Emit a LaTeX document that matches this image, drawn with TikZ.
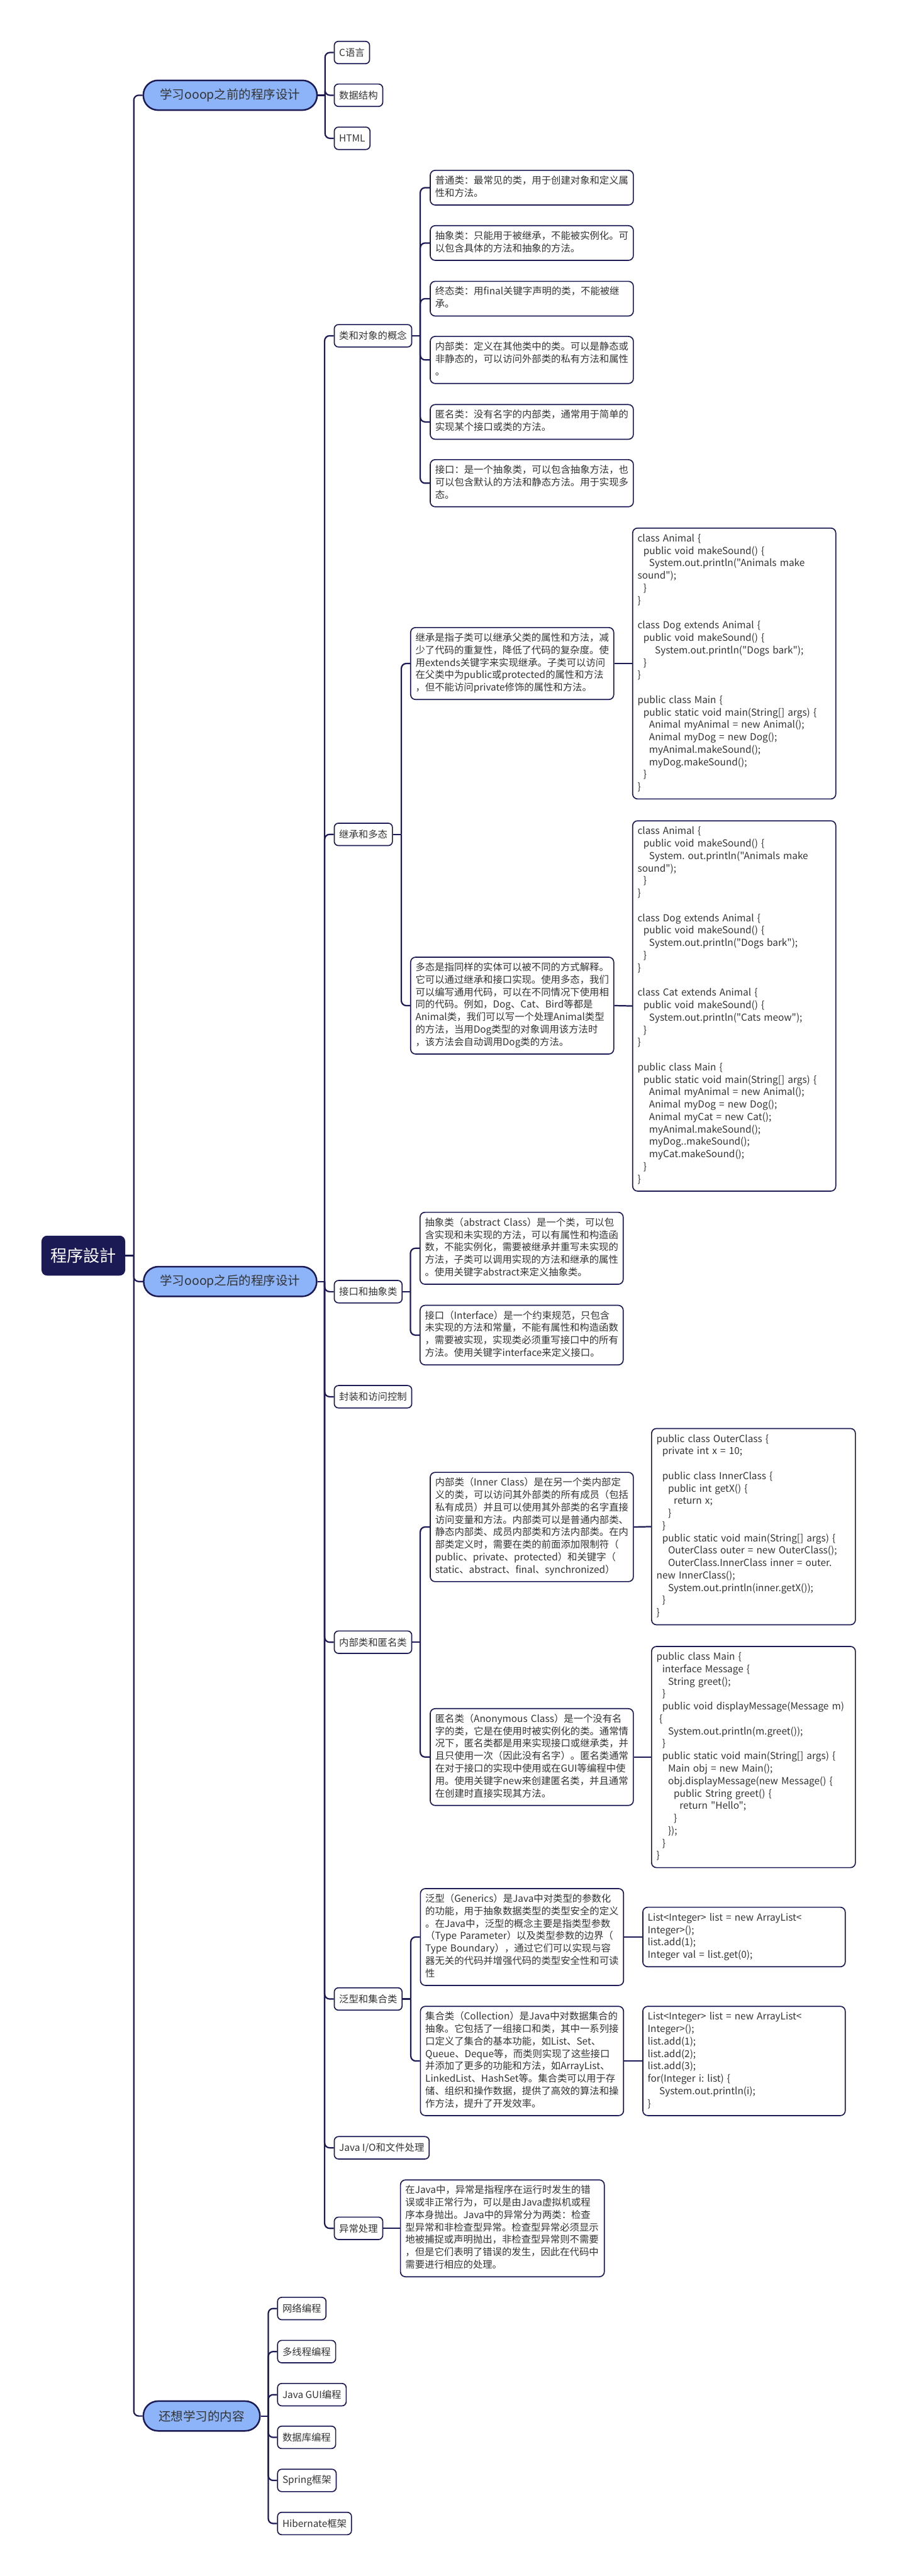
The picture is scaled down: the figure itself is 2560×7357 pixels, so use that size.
\documentclass[tikz,border=0pt]{standalone}
\usepackage{fontspec}
\setmainfont{Noto Sans CJK SC}[Ligatures=TeXOff]
\hyphenpenalty=10000
\exhyphenpenalty=10000
\definecolor{navy}{HTML}{1B1A55}
\definecolor{pillblue}{HTML}{8DB4F8}
\definecolor{txt}{HTML}{333333}
\newcommand\fsz{\fontsize{27.6}{35.5}\selectfont}
\newcommand\cind[1]{\hspace*{#1\dimexpr16.5pt\relax}}
\tikzset{
  conn/.style={draw=navy, line width=4pt, rounded corners=14pt},
  rootbox/.style={fill=navy, text=white, rounded corners=16pt, minimum width=239pt, minimum height=114pt, font=\fontsize{47}{56}\selectfont},
  pillbox/.style={fill=pillblue, draw=navy, line width=4.5pt, rounded corners=42pt, minimum height=85pt, text=txt, font=\fontsize{35}{42}\selectfont, anchor=west},
  leafbox/.style={draw=navy, line width=3pt, fill=white, rounded corners=12pt, minimum height=64pt, inner xsep=14pt, text=txt, font=\fsz, anchor=west},
  tbox/.style={draw=navy, line width=3pt, fill=white, rounded corners=14pt, align=left, text width=#1, inner xsep=14pt, inner ysep=14pt, text=txt, font=\fsz, anchor=west, execute at begin node=\strut, execute at end node=\strut},
  tbox/.default=552pt
}
\begin{document}
\begin{tikzpicture}[x=1pt,y=-1pt]
\useasboundingbox (0,0) rectangle (2560,7357);
\fill[white] (0,0) rectangle (2560,7357);

% root and main branches
\node[rootbox] (root) at (238,3586) {程序設計};
\node[pillbox, minimum width=496pt] (b1) at (407,272) {学习ooop之前的程序设计};
\node[pillbox, minimum width=494pt] (b2) at (408,3660) {学习ooop之后的程序设计};
\node[pillbox, minimum width=333pt] (b3) at (407,6900) {还想学习的内容};

\coordinate (T) at (382,3586);
\draw[conn] (root.east) -- (T);
\foreach \b in {b1,b2,b3} \draw[conn] (T) |- (\b.west);

% branch 1 leaves
\node[leafbox] (a1) at (953,150) {C语言};
\node[leafbox] (a2) at (953,272) {数据结构};
\node[leafbox] (a3) at (953,395) {HTML};
\coordinate (s1) at (928,272);
\draw[conn] (b1.east) -- (s1);
\foreach \c in {a1,a2,a3} \draw[conn] (s1) |- (\c.west);

% branch 2 children
\node[leafbox] (k1) at (953,959) {类和对象的概念};
\node[leafbox] (k2) at (953,2383) {继承和多态};
\node[leafbox] (k3) at (953,3689) {接口和抽象类};
\node[leafbox] (k4) at (953,3989) {封装和访问控制};
\node[leafbox] (k5) at (953,4690) {内部类和匿名类};
\node[leafbox] (k6) at (953,5709) {泛型和集合类};
\node[leafbox] (k7) at (953,6134) {Java I/O和文件处理};
\node[leafbox] (k8) at (953,6364) {异常处理};
\coordinate (s2) at (927,3660);
\draw[conn] (b2.east) -- (s2);
\foreach \c in {k1,k2,k3,k4,k5,k6,k7,k8} \draw[conn] (s2) |- (\c.west);

% class and object concepts
\node[tbox] (n11) at (1227,536) {普通类：最常见的类，用于创建对象和定义属\\性和方法。};
\node[tbox] (n12) at (1227,694) {抽象类：只能用于被继承，不能被实例化。可\\以包含具体的方法和抽象的方法。};
\node[tbox] (n13) at (1227,853) {终态类：用final关键字声明的类，不能被继\\承。};
\node[tbox] (n14) at (1227,1028) {内部类：定义在其他类中的类。可以是静态或\\非静态的，可以访问外部类的私有方法和属性\\。};
\node[tbox] (n15) at (1227,1205) {匿名类：没有名字的内部类，通常用于简单的\\实现某个接口或类的方法。};
\node[tbox] (n16) at (1227,1380) {接口：是一个抽象类，可以包含抽象方法，也\\可以包含默认的方法和静态方法。用于实现多\\态。};
\coordinate (s3) at (1200,959);
\draw[conn] (k1.east) -- (s3);
\foreach \c in {n11,n12,n13,n14,n15,n16} \draw[conn] (s3) |- (\c.west);

% inheritance and polymorphism
\node[tbox] (n21) at (1171,1895) {继承是指子类可以继承父类的属性和方法，减\\少了代码的重复性，降低了代码的复杂度。使\\用extends关键字来实现继承。子类可以访问\\在父类中为public或protected的属性和方法\\，但不能访问private修饰的属性和方法。};
\node[tbox] (n22) at (1171,2872) {多态是指同样的实体可以被不同的方式解释。\\它可以通过继承和接口实现。使用多态，我们\\可以编写通用代码，可以在不同情况下使用相\\同的代码。例如，Dog、Cat、Bird等都是\\Animal类，我们可以写一个处理Animal类型\\的方法，当用Dog类型的对象调用该方法时\\，该方法会自动调用Dog类的方法。};
\coordinate (s4) at (1146,2383);
\draw[conn] (k2.east) -- (s4);
\foreach \c in {n21,n22} \draw[conn] (s4) |- (\c.west);

\node[tbox] (c21) at (1805,1895) {class~Animal~\{\\
\cind{1}public~void~makeSound()~\{\\
\cind{2}System.out.println("Animals~make\\
sound");\\
\cind{1}\}\\
\}\\
\mbox{}\\
class~Dog~extends~Animal~\{\\
\cind{1}public~void~makeSound()~\{\\
\cind{3}System.out.println("Dogs~bark");\\
\cind{1}\}\\
\}\\
\mbox{}\\
public~class~Main~\{\\
\cind{1}public~static~void~main(String[]~args)~\{\\
\cind{2}Animal~myAnimal~=~new~Animal();\\
\cind{2}Animal~myDog~=~new~Dog();\\
\cind{2}myAnimal.makeSound();\\
\cind{2}myDog.makeSound();\\
\cind{1}\}\\
\}};
\node[tbox] (c22) at (1805,2873) {class~Animal~\{\\
\cind{1}public~void~makeSound()~\{\\
\cind{2}System.~out.println("Animals~make\\
sound");\\
\cind{1}\}\\
\}\\
\mbox{}\\
class~Dog~extends~Animal~\{\\
\cind{1}public~void~makeSound()~\{\\
\cind{2}System.out.println("Dogs~bark");\\
\cind{1}\}\\
\}\\
\mbox{}\\
class~Cat~extends~Animal~\{\\
\cind{1}public~void~makeSound()~\{\\
\cind{2}System.out.println("Cats~meow");\\
\cind{1}\}\\
\}\\
\mbox{}\\
public~class~Main~\{\\
\cind{1}public~static~void~main(String[]~args)~\{\\
\cind{2}Animal~myAnimal~=~new~Animal();\\
\cind{2}Animal~myDog~=~new~Dog();\\
\cind{2}Animal~myCat~=~new~Cat();\\
\cind{2}myAnimal.makeSound();\\
\cind{2}myDog..makeSound();\\
\cind{2}myCat.makeSound();\\
\cind{1}\}\\
\}};
\draw[conn] (n21.east) -- (c21.west);
\draw[conn] (n22.east) -- (c22.west);

% interfaces and abstract classes
\node[tbox] (n31) at (1198,3565) {抽象类（abstract~Class）是一个类，可以包\\含实现和未实现的方法，可以有属性和构造函\\数，不能实例化，需要被继承并重写未实现的\\方法，子类可以调用实现的方法和继承的属性\\。使用关键字abstract来定义抽象类。};
\node[tbox] (n32) at (1198,3813) {接口（Interface）是一个约束规范，只包含\\未实现的方法和常量，不能有属性和构造函数\\，需要被实现，实现类必须重写接口中的所有\\方法。使用关键字interface来定义接口。};
\coordinate (s5) at (1172,3689);
\draw[conn] (k3.east) -- (s5);
\foreach \c in {n31,n32} \draw[conn] (s5) |- (\c.west);

% inner and anonymous classes
\node[tbox] (n51) at (1227,4361) {内部类（Inner~Class）是在另一个类内部定\\义的类，可以访问其外部类的所有成员（包括\\私有成员）并且可以使用其外部类的名字直接\\访问变量和方法。内部类可以是普通内部类、\\静态内部类、成员内部类和方法内部类。在内\\部类定义时，需要在类的前面添加限制符（\\public、private、protected）和关键字（\\static、abstract、final、synchronized）};
\node[tbox] (n52) at (1227,5018) {匿名类（Anonymous~Class）是一个没有名\\字的类，它是在使用时被实例化的类。通常情\\况下，匿名类都是用来实现接口或继承类，并\\且只使用一次（因此没有名字）。匿名类通常\\在对于接口的实现中使用或在GUI等编程中使\\用。使用关键字new来创建匿名类，并且通常\\在创建时直接实现其方法。};
\coordinate (s6) at (1200,4690);
\draw[conn] (k5.east) -- (s6);
\foreach \c in {n51,n52} \draw[conn] (s6) |- (\c.west);

\node[tbox=554pt] (c51) at (1859,4360) {public~class~OuterClass~\{\\
\cind{1}private~int~x~=~10;\\
\mbox{}\\
\cind{1}public~class~InnerClass~\{\\
\cind{2}public~int~getX()~\{\\
\cind{3}return~x;\\
\cind{2}\}\\
\cind{1}\}\\
\cind{1}public~static~void~main(String[]~args)~\{\\
\cind{2}OuterClass~outer~=~new~OuterClass();\\
\cind{2}OuterClass.InnerClass~inner~=~outer.\\
new~InnerClass();\\
\cind{2}System.out.println(inner.getX());\\
\cind{1}\}\\
\}};
\node[tbox=554pt] (c52) at (1859,5018) {public~class~Main~\{\\
\cind{1}interface~Message~\{\\
\cind{2}String~greet();\\
\cind{1}\}\\
\cind{1}public~void~displayMessage(Message~m)\\
\hspace*{8pt}\{\\
\cind{2}System.out.println(m.greet());\\
\cind{1}\}\\
\cind{1}public~static~void~main(String[]~args)~\{\\
\cind{2}Main~obj~=~new~Main();\\
\cind{2}obj.displayMessage(new~Message()~\{\\
\cind{3}public~String~greet()~\{\\
\cind{4}return~"Hello";\\
\cind{3}\}\\
\cind{2}\});\\
\cind{1}\}\\
\}};
\draw[conn] (n51.east) -- (c51.west);
\draw[conn] (n52.east) -- (c52.west);

% generics and collections
\node[tbox] (n61) at (1199,5532) {泛型（Generics）是Java中对类型的参数化\\的功能，用于抽象数据类型的类型安全的定义\\。在Java中，泛型的概念主要是指类型参数\\（Type~Parameter）以及类型参数的边界（\\Type~Boundary），通过它们可以实现与容\\器无关的代码并增强代码的类型安全性和可读\\性};
\node[tbox] (n62) at (1199,5886) {集合类（Collection）是Java中对数据集合的\\抽象。它包括了一组接口和类，其中一系列接\\口定义了集合的基本功能，如List、Set、\\Queue、Deque等，而类则实现了这些接口\\并添加了更多的功能和方法，如ArrayList、\\LinkedList、HashSet等。集合类可以用于存\\储、组织和操作数据，提供了高效的算法和操\\作方法，提升了开发效率。};
\coordinate (s7) at (1173,5709);
\draw[conn] (k6.east) -- (s7);
\foreach \c in {n61,n62} \draw[conn] (s7) |- (\c.west);

\node[tbox=550pt] (c61) at (1834,5532) {List<Integer>~list~=~new~ArrayList<\\
Integer>();\\
list.add(1);\\
Integer~val~=~list.get(0);};
\node[tbox=550pt] (c62) at (1834,5886) {List<Integer>~list~=~new~ArrayList<\\
Integer>();\\
list.add(1);\\
list.add(2);\\
list.add(3);\\
for(Integer~i:~list)~\{\\
\cind{2}System.out.println(i);\\
\}};
\draw[conn] (n61.east) -- (c61.west);
\draw[conn] (n62.east) -- (c62.west);

% exception handling
\node[tbox=554pt] (n81) at (1142,6364) {在Java中，异常是指程序在运行时发生的错\\误或非正常行为，可以是由Java虚拟机或程\\序本身抛出。Java中的异常分为两类：检查\\型异常和非检查型异常。检查型异常必须显示\\地被捕捉或声明抛出，非检查型异常则不需要\\，但是它们表明了错误的发生，因此在代码中\\需要进行相应的处理。};
\draw[conn] (k8.east) -- (n81.west);

% branch 3 leaves
\node[leafbox] (d1) at (791,6593) {网络编程};
\node[leafbox] (d2) at (791,6716) {多线程编程};
\node[leafbox] (d3) at (791,6839) {Java GUI编程};
\node[leafbox] (d4) at (791,6961) {数据库编程};
\node[leafbox] (d5) at (791,7084) {Spring框架};
\node[leafbox] (d6) at (791,7207) {Hibernate框架};
\coordinate (s8) at (766,6900);
\draw[conn] (b3.east) -- (s8);
\foreach \c in {d1,d2,d3,d4,d5,d6} \draw[conn] (s8) |- (\c.west);
\end{tikzpicture}
\end{document}
